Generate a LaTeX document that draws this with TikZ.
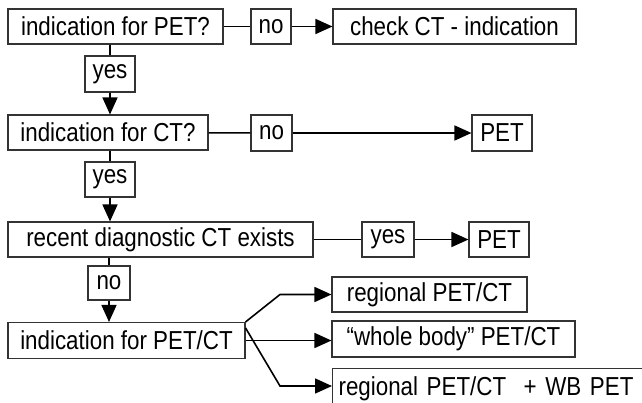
\documentclass[tikz,border=0pt]{standalone}
\usepackage{fontspec}
\setmainfont[FakeStretch=0.86]{Liberation Sans}
\usetikzlibrary{arrows.meta}
\begin{document}
\begin{tikzpicture}[x=1pt,y=-1pt,
    box/.style={draw=black!80,line width=1.1pt,inner sep=0pt,
      font=\fontsize{26}{30}\selectfont},
    link/.style={line width=1.6pt},
    arr/.style={link,-{Triangle[length=17pt,width=15pt]}}]
      \useasboundingbox (0,0) rectangle (642,402);
      \draw
        (115.5,26.5) node[box,minimum width=215,minimum height=35] (pet){indication for PET?}
        (271,26.5) node[box,minimum width=40,minimum height=35] (no1){no}
        (454.5,26.5) node[box,minimum width=243,minimum height=35] (check){check CT - indication}
        (110,74) node[box,minimum width=50,minimum height=36] (yes1){yes}
        (108,132.5) node[box,minimum width=200,minimum height=35] (ct){indication for CT?}
        (271.5,133) node[box,minimum width=41,minimum height=36] (no2){no}
        (502,133) node[box,minimum width=60,minimum height=36] (pet2){PET}
        (110,179.5) node[box,minimum width=50,minimum height=35] (yes2){yes}
        (160.5,239.5) node[box,minimum width=305,minimum height=35] (recent){recent diagnostic CT exists}
        (388,239.5) node[box,minimum width=52,minimum height=35] (yes3){yes}
        (499,239.5) node[box,minimum width=60,minimum height=35] (pet3){PET}
        (109,283) node[box,minimum width=42,minimum height=34] (no3){no}
        (126.5,340.5) node[box,minimum width=237,minimum height=36] (petct){indication for PET/CT}
        (429.5,294.5) node[box,minimum width=195,minimum height=35] (reg){regional PET/CT}
        (453.5,339) node[box,minimum width=243,minimum height=36] (wb){“whole body” PET/CT}
        (332,368) node[box,anchor=north west,minimum width=330,minimum height=40,
          text width=318,align=left] (regwb){regional PET/CT \ + WB PET};
      \coordinate (up) at (280,294.5);
      \coordinate (down) at (280,386);
      \begin{scope}[link]
        \draw (pet) to (no1);
        \draw[arr] (no1) to (check);
        \draw (yes1.north |- pet.south) to (yes1.north);
        \draw[arr] (yes1) to (yes1.south |- ct.north);
        \draw (ct) to (no2);
        \draw[arr] (no2) to (pet2);
        \draw (yes2.north |- ct.south) to (yes2.north);
        \draw[arr] (yes2) to (yes2.south |- recent.north);
        \draw[line width=1.1pt] (recent) to (yes3);
        \draw[arr] (yes3) to (pet3);
        \draw (no3.north |- recent.south) to (no3.north);
        \draw[arr] (no3) to (no3.south |- petct.north);
        \draw[arr] (petct.north east) to (up) to (reg.west);
        \draw[arr] (petct.east) to (wb.west |- petct.east);
        \draw[arr] ([yshift=-6pt]petct.north east) to (down) to (regwb.west |- down);
      \end{scope}
    \end{tikzpicture}
\end{document}
